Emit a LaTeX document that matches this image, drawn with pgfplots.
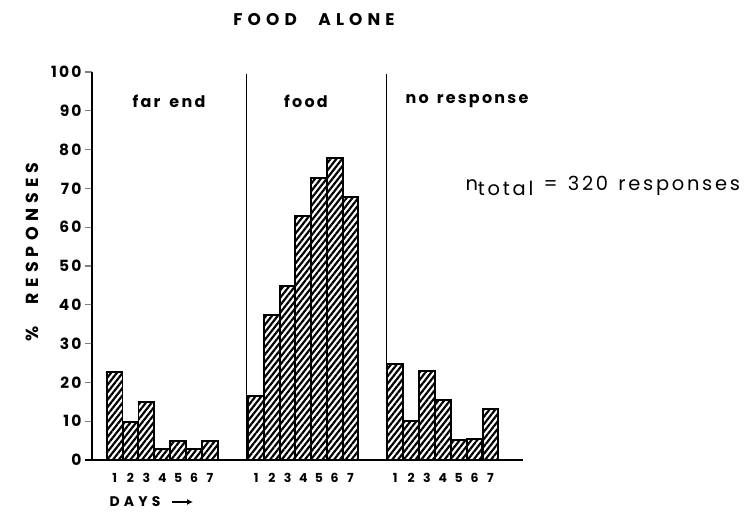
\documentclass[border=0pt]{standalone}
\usepackage{pgfplots}
\pgfplotsset{compat=1.18}
\usetikzlibrary{patterns.meta,arrows.meta}
\usepackage{fontspec}
\setmainfont{Poppins}
\newfontfamily\lett[LetterSpace=30, WordSpace=2.5]{Poppins}
\newfontfamily\lettb[LetterSpace=14]{Poppins}
\newfontfamily\lettn[LetterSpace=14, WordSpace=1.3]{Poppins}
\newcommand\gap[1]{\hbox to #1{\hfil}}
\begin{document}
\begin{tikzpicture}
\useasboundingbox (-92bp,-55bp) rectangle (660bp,460bp);
\begin{axis}[
  at={(0,0)}, anchor=south west, scale only axis,
  width=431bp, height=388bp,
  xmin=92, xmax=523, ymin=0, ymax=100,
  axis x line=bottom, axis y line=left,
  axis line style={-, line width=1.5pt},
  clip=false,
  ytick={0,10,...,100},
  tick align=outside, major tick length=7bp,
  ytick style={line width=1.2pt},
  yticklabel style={font=\lettb\bfseries\fontsize{15.5}{15.5}\selectfont, /pgf/number format/assume math mode=true},
  xtick={114.6,130.5,146.4,162.3,178.2,194.1,210.0,256.2,271.9,287.6,303.3,319.0,334.7,350.4,395.2,411.1,426.9,442.8,458.7,474.5,490.4},
  xticklabels={1,2,3,4,5,6,7,1,2,3,4,5,6,7,1,2,3,4,5,6,7},
  xtick style={draw=none},
  xticklabel style={font=\bfseries\fontsize{12.5}{12.5}\selectfont, yshift=-3bp},
  hb/.style={ybar, bar width=15.8, bar shift=0pt, draw=black, line width=2pt,
    pattern={Lines[angle=52,distance=4.6pt,line width=2.2pt]}, pattern color=black},
]
% far end
\addplot[hb] coordinates {(114.6,22.8) (130.5,9.7) (146.4,15.0) (162.3,2.9) (178.2,4.9) (194.1,2.8) (210.0,5.0)};
% food
\addplot[hb] coordinates {(256.2,16.5) (271.9,37.4) (287.6,44.9) (303.3,62.9) (319.0,72.8) (334.7,77.9) (350.4,67.9)};
% no response
\addplot[hb] coordinates {(395.2,24.8) (411.1,10.0) (426.9,23.0) (442.8,15.4) (458.7,5.2) (474.5,5.4) (490.4,13.1)};
\draw[line width=1.2pt] (axis cs:246.5,0) -- (axis cs:246.5,99.5);
\draw[line width=1.2pt] (axis cs:386.5,0) -- (axis cs:386.5,99.5);
\draw[line width=1.5pt] (axis cs:85,0) -- (axis cs:92,0);
\end{axis}
\node[font=\lett\bfseries\fontsize{17}{17}\selectfont] at (222bp,440bp) {FOOD ALONE};
\node[font=\lettb\bfseries\fontsize{16}{16}\selectfont] at (77bp,359bp) {far\gap{9bp}end};
\node[font=\lettb\bfseries\fontsize{16}{16}\selectfont] at (214bp,359bp) {food};
\node[font=\lettb\bfseries\fontsize{16}{16}\selectfont] at (375bp,359bp) {no\gap{8bp}response};
\node[font=\lett\bfseries\fontsize{17.5}{17.5}\selectfont, rotate=90] at (-60bp,208bp) {\% RESPONSES};
\node[font=\lettn\fontsize{19.5}{19.5}\selectfont, anchor=west] at (370bp,274bp) {n\raisebox{-0.55ex}{total} = 320 responses};
\node[font=\lett\bfseries\fontsize{14}{14}\selectfont, anchor=west] at (14bp,-42bp) {DAYS};
\draw[line width=1.6pt, -{Latex[length=6bp,width=6bp]}] (80bp,-42bp) -- (101bp,-42bp);
\end{tikzpicture}
\end{document}
